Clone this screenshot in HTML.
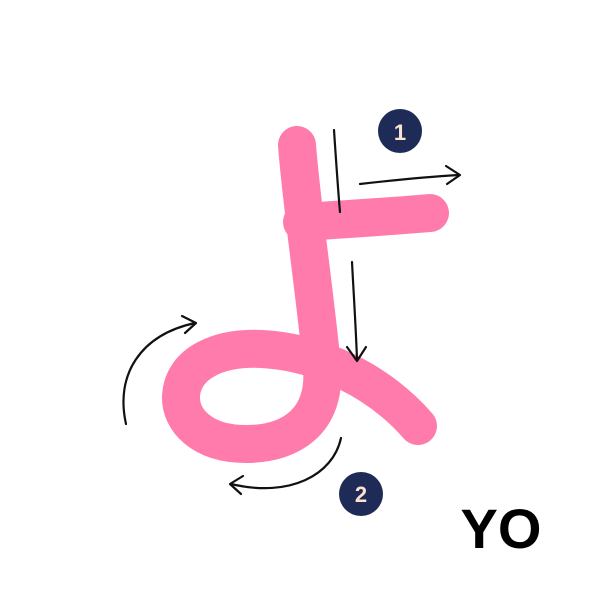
<!DOCTYPE html>
<html><head><meta charset="utf-8"><style>
html,body{margin:0;padding:0;background:#fff;width:600px;height:600px;overflow:hidden}
</style></head><body>
<svg width="600" height="600" viewBox="0 0 600 600">
  <g fill="none" stroke="#FF7BAC" stroke-width="38" stroke-linecap="round" stroke-linejoin="round">
    <path d="M302,222 C350,219 395,216 430,213"/>
    <path d="M297,145 C302,210 316,300 322,368 C326,420 292,444 246,444 C202,444 180,420 181,396 C183,362 220,347 262,349 C318,352 378,380 418,426"/>
  </g>
  <g fill="none" stroke="#111" stroke-width="2.2" stroke-linecap="round" stroke-linejoin="round">
    <path d="M334,130 C336,160 338,190 340,212"/>
    <path d="M352,262 C354,300 356,330 357,360"/>
    <path d="M347,347 L357,361 L366,347"/>
    <path d="M360,184 C395,180 425,177 459,175"/>
    <path d="M446,166 L460,175 L447,184"/>
    <path d="M126,424 C115,375 140,335 195,323"/>
    <path d="M182,316 L196,323 L185,333"/>
    <path d="M341,438 C333,475 290,498 231,484"/>
    <path d="M243,476 L230,484 L241,494"/>
  </g>
  <g>
    <circle cx="400" cy="131" r="22" fill="#1F2B57"/>
    <text x="400" y="140" text-anchor="middle" font-family="Liberation Sans, sans-serif" font-weight="bold" font-size="22" fill="#FBE3D0">1</text>
  </g>
  <g>
    <circle cx="361" cy="494" r="22" fill="#1F2B57"/>
    <text x="361" y="502" text-anchor="middle" font-family="Liberation Sans, sans-serif" font-weight="bold" font-size="22" fill="#FBE3D0">2</text>
  </g>
  <text x="501" y="548" text-anchor="middle" font-family="Liberation Sans, sans-serif" font-weight="bold" font-size="56" fill="#000">YO</text>
</svg>
</body></html>
